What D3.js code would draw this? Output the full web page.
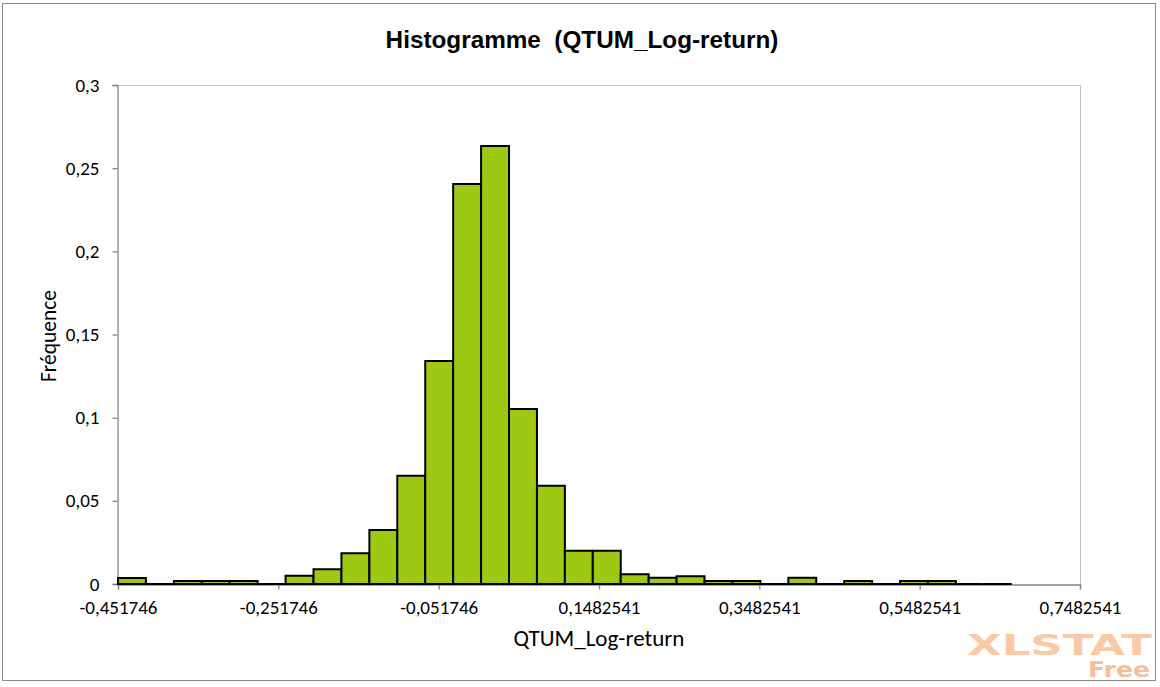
<!DOCTYPE html>
<html>
<head>
<meta charset="utf-8">
<script src="https://cdn.jsdelivr.net/npm/d3@7"></script>
<style>
  html, body { margin: 0; padding: 0; background: #fff; }
  svg { display: block; }
</style>
</head>
<body>
<svg id="chart" width="1160" height="687"></svg>
<script>
// ---- Data ----
const title = "Histogramme  (QTUM_Log-return)";
const xTitle = "QTUM_Log-return";
const yTitle = "Fréquence";

// lower and upper bounds of each bin
const binLower = [-0.451746, -0.416906, -0.382066, -0.347226, -0.312386, -0.277546, -0.242706, -0.207866,
  -0.173026, -0.138186, -0.103346, -0.068506, -0.033666, 0.001174, 0.036014, 0.070854,
  0.105694, 0.140534, 0.175374, 0.210214, 0.245054, 0.279894, 0.314734, 0.349574,
  0.384414, 0.419254, 0.454094, 0.488934, 0.523774, 0.558614, 0.593454, 0.628294];
const binUpper = [-0.416906, -0.382066, -0.347226, -0.312386, -0.277546, -0.242706, -0.207866, -0.173026,
  -0.138186, -0.103346, -0.068506, -0.033666, 0.001174, 0.036014, 0.070854, 0.105694,
  0.140534, 0.175374, 0.210214, 0.245054, 0.279894, 0.314734, 0.349574, 0.384414,
  0.419254, 0.454094, 0.488934, 0.523774, 0.558614, 0.593454, 0.628294, 0.663134];
const frequency = [0.0036, 0, 0.0018, 0.0018, 0.0018, 0, 0.0050, 0.0088,
  0.0185, 0.0325, 0.0651, 0.1341, 0.2405, 0.2634, 0.1052, 0.0591,
  0.0200, 0.0200, 0.0058, 0.0038, 0.0046, 0.0018, 0.0018, 0,
  0.0038, 0, 0.0018, 0, 0.0018, 0.0018, 0, 0];

const xTickValues = [-0.451746, -0.251746, -0.051746, 0.1482541, 0.3482541, 0.5482541, 0.7482541];
const xTickLabels = ["-0,451746", "-0,251746", "-0,051746", "0,1482541", "0,3482541", "0,5482541", "0,7482541"];
const yTickValues = [0, 0.05, 0.1, 0.15, 0.2, 0.25, 0.3];
const yTickLabels = ["0", "0,05", "0,1", "0,15", "0,2", "0,25", "0,3"];

// ---- Layout ----
const svg = d3.select("#chart");
const plot = { left: 118, right: 1080, top: 85, bottom: 584 };
const sansFont = "Carlito, Calibri, Lato, sans-serif";

// fit a font size so that a text reaches a target width
function fitSize(family, weight, str, targetWidth) {
  const t = svg.append("text").style("font-family", family).style("font-weight", weight)
    .style("font-size", "100px").style("white-space", "pre").text(str);
  const w = t.node().getComputedTextLength();
  t.remove();
  return 100 * targetWidth / w;
}

const x = d3.scaleLinear().domain([xTickValues[0], xTickValues[xTickValues.length - 1]]).range([plot.left, plot.right]);
const y = d3.scaleLinear().domain([0, 0.3]).range([plot.bottom, plot.top]);

// outer frame
svg.append("rect").attr("x", 2.5).attr("y", 3.5).attr("width", 1153).attr("height", 677)
  .attr("fill", "#fff").attr("stroke", "#8a8a8a").attr("stroke-width", 1);

// plot-area frame (top & right)
svg.append("path")
  .attr("d", `M${plot.left},${plot.top + 0.5}H${plot.right + 0.5}V${plot.bottom}`)
  .attr("fill", "none").attr("stroke", "#c0c0c0").attr("stroke-width", 1);

const tickSize = fitSize(sansFont, "normal", "-0,451746", 78);

// axes
const xAxis = d3.axisBottom(x).tickValues(xTickValues).tickFormat((d, i) => xTickLabels[i]).tickSizeOuter(0).tickSize(5).tickPadding(11);
const gx = svg.append("g").attr("transform", `translate(0,${plot.bottom + 0.5})`).call(xAxis);
const yAxis = d3.axisLeft(y).tickValues(yTickValues).tickFormat((d, i) => yTickLabels[i]).tickSizeOuter(0).tickSize(5).tickPadding(13);
const gy = svg.append("g").attr("transform", `translate(${plot.left - 0.5},0)`).call(yAxis);

[gx, gy].forEach(g => {
  g.select(".domain").attr("stroke", "#868686").attr("stroke-width", 1.3);
  g.selectAll(".tick line").attr("stroke", "#868686").attr("stroke-width", 1.3);
  g.selectAll(".tick text").attr("fill", "#000").style("font-family", sansFont).style("font-size", tickSize + "px");
});

// bars (drawn as closed paths so zero-height bins still show their outline)
const bars = binLower.map((lo, i) => ({ lo, hi: binUpper[i], f: frequency[i] }));
svg.append("g").selectAll("path").data(bars).join("path")
  .attr("d", d => `M${x(d.lo)},${y(0)}V${y(d.f)}H${x(d.hi)}V${y(0)}Z`)
  .attr("fill", "#9dc813")
  .attr("stroke", "#000")
  .attr("stroke-width", 2)
  .attr("stroke-linejoin", "miter");

// titles
const titleFont = "Liberation Sans, Arial, sans-serif";
svg.append("text").attr("x", 582).attr("y", 48).attr("text-anchor", "middle")
  .style("font-family", titleFont).style("font-weight", "bold").style("white-space", "pre")
  .style("font-size", fitSize(titleFont, "bold", title, 393) + "px")
  .text(title);

svg.append("text").attr("x", 599).attr("y", 646).attr("text-anchor", "middle")
  .style("font-family", sansFont).style("font-size", fitSize(sansFont, "normal", xTitle, 171) + "px").text(xTitle);

svg.append("text").attr("transform", "translate(56,336) rotate(-90)").attr("text-anchor", "middle")
  .style("font-family", sansFont).style("font-size", fitSize(sansFont, "normal", yTitle, 92) + "px").text(yTitle);

// watermark
svg.append("text").attr("x", 1152).attr("y", 655).attr("text-anchor", "end")
  .style("font-family", "DejaVu Sans, sans-serif").style("font-weight", "bold").style("font-size", "29px")
  .attr("fill", "#fcc9a7").attr("textLength", 185).attr("lengthAdjust", "spacingAndGlyphs").text("XLSTAT");
svg.append("text").attr("x", 1150).attr("y", 677).attr("text-anchor", "end")
  .style("font-family", "DejaVu Sans, sans-serif").style("font-weight", "bold").style("font-size", "22px")
  .attr("fill", "#f8bf97").attr("textLength", 62).attr("lengthAdjust", "spacingAndGlyphs").text("Free");
</script>
</body>
</html>
